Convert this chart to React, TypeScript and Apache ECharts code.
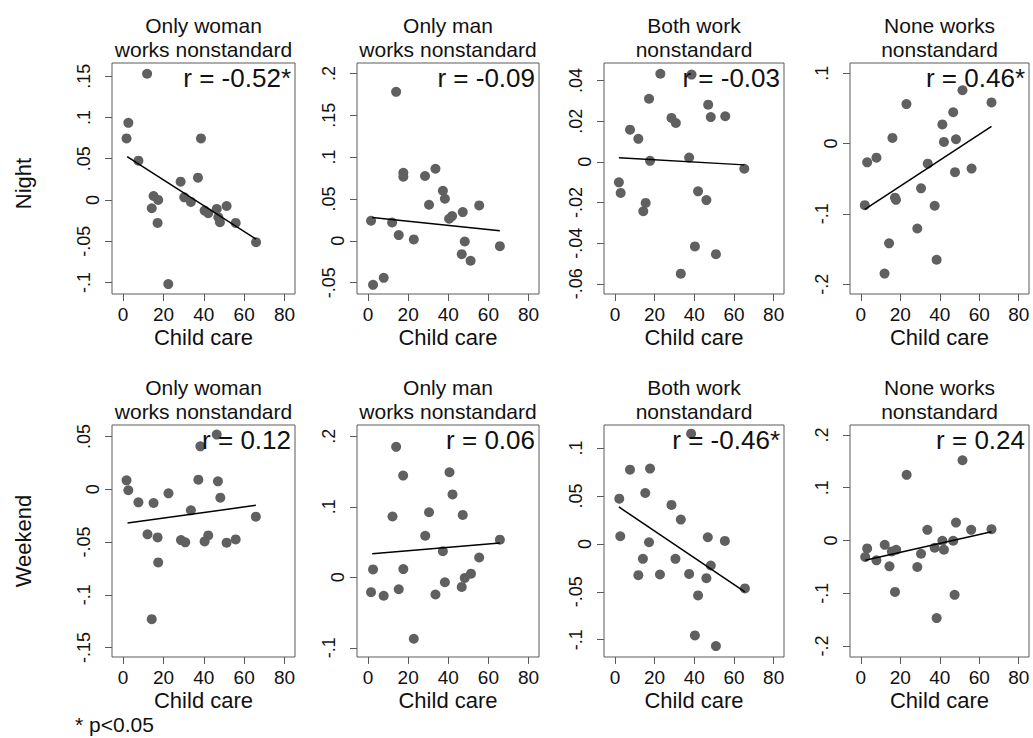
import React, { useEffect, useRef } from "react";
import * as echarts from "echarts";

// ---------- data ----------
const panelTitleLine1 = ["Only woman", "Only man", "Both work", "None works"];
const panelTitleLine2 = ["works nonstandard", "works nonstandard", "nonstandard", "nonstandard"];
const rowLabels = ["Night", "Weekend"];
const xAxisName = "Child care";
const footnote = "* p<0.05";

const nightR = ["r = -0.52*", "r = -0.09", "r = -0.03", "r = 0.46*"];
const weekendR = ["r = 0.12", "r = 0.06", "r = -0.46*", "r = 0.24"];

const xTicks = [0, 20, 40, 60, 80];

const nightOnlyWoman = [
  [11.9, 0.153], [2.6, 0.0935], [1.7, 0.0746], [7.6, 0.0476], [38.6, 0.0746],
  [28.5, 0.0222], [37.1, 0.027], [15.1, 0.0048], [17.4, 0.0], [14.2, -0.0101],
  [17.1, -0.0278], [30.3, 0.0032], [33.6, -0.0024], [40.4, -0.0129], [42.2, -0.0161],
  [46.4, -0.0109], [51.3, -0.0073], [47.2, -0.021], [48.0, -0.027], [55.8, -0.0278],
  [65.9, -0.0512], [22.4, -0.102],
];
const nightOnlyWomanFit = [[2.0, 0.0524], [65.9, -0.0476]];

const nightOnlyMan = [
  [14.0, 0.178], [17.6, 0.0813], [17.6, 0.0766], [28.4, 0.0774], [33.6, 0.0861],
  [37.3, 0.0598], [38.3, 0.0502], [30.4, 0.0431], [55.4, 0.0423], [47.2, 0.0343],
  [41.9, 0.0295], [40.4, 0.0263], [1.5, 0.0239], [12.0, 0.0219], [15.3, 0.0068],
  [22.8, 0.0016], [48.2, -0.0008], [65.7, -0.0064], [46.7, -0.016], [51.1, -0.0239],
  [7.8, -0.0443], [2.5, -0.0526],
];
const nightOnlyManFit = [[2.1, 0.0279], [65.7, 0.012]];

const nightBoth = [
  [22.9, 0.0433], [38.6, 0.0429], [17.2, 0.031], [47.0, 0.0281], [28.5, 0.0216],
  [30.7, 0.0191], [48.3, 0.022], [55.6, 0.0224], [7.6, 0.0158], [11.8, 0.0113],
  [37.4, 0.0021], [17.7, 0.0005], [65.2, -0.0034], [2.0, -0.0101], [2.9, -0.0153],
  [41.9, -0.0145], [46.1, -0.0188], [15.5, -0.0202], [14.3, -0.0243], [40.3, -0.0416],
  [50.9, -0.0454], [33.2, -0.055],
];
const nightBothFit = [[2.0, 0.002], [65.2, -0.0015]];

const nightNone = [
  [51.5, 0.0759], [66.2, 0.0585], [23.1, 0.0562], [46.8, 0.0445], [41.3, 0.0272],
  [16.0, 0.008], [48.2, 0.0061], [42.1, 0.0023], [3.2, -0.0267], [7.9, -0.0201],
  [33.9, -0.0286], [56.1, -0.0356], [47.7, -0.0407], [30.5, -0.0637], [17.3, -0.077],
  [17.8, -0.08], [2.0, -0.0876], [37.4, -0.0885], [28.6, -0.1208], [14.3, -0.1419],
  [38.4, -0.1653], [12.0, -0.185],
];
const nightNoneFit = [[2.0, -0.0937], [66.2, 0.0244]];

const weekendOnlyWoman = [
  [46.4, 0.0519], [38.3, 0.0408], [1.7, 0.0085], [2.6, -0.0009], [37.3, 0.0092],
  [47.0, 0.0076], [48.2, -0.0079], [22.5, -0.0038], [7.6, -0.0123], [15.1, -0.013],
  [33.6, -0.0199], [65.8, -0.0259], [12.1, -0.0427], [17.1, -0.0456], [42.2, -0.0437],
  [28.7, -0.0481], [30.8, -0.0503], [40.4, -0.0494], [51.3, -0.0506], [55.8, -0.0475],
  [17.4, -0.0693], [14.2, -0.1231],
];
const weekendOnlyWomanFit = [[2.2, -0.032], [65.8, -0.0152]];

const weekendOnlyMan = [
  [14.0, 0.185], [17.5, 0.1443], [40.6, 0.149], [42.1, 0.1176], [12.2, 0.0862],
  [30.4, 0.0923], [47.2, 0.0885], [28.5, 0.059], [65.7, 0.0534], [37.3, 0.037],
  [55.4, 0.0281], [2.5, 0.0112], [17.6, 0.0117], [51.3, 0.0052], [48.2, -0.0009],
  [38.3, -0.007], [46.7, -0.0136], [15.3, -0.0169], [1.5, -0.0211], [7.8, -0.0262],
  [33.6, -0.0244], [22.8, -0.0871],
];
const weekendOnlyManFit = [[2.1, 0.0333], [65.7, 0.0487]];

const weekendBoth = [
  [38.4, 0.115], [7.6, 0.0774], [17.7, 0.0785], [2.2, 0.0472], [15.3, 0.0531],
  [28.5, 0.0406], [33.2, 0.0253], [2.7, 0.008], [46.8, 0.0069], [55.4, 0.0031],
  [17.2, 0.0017], [14.1, -0.0156], [30.5, -0.0156], [48.3, -0.0226], [11.8, -0.0326],
  [22.7, -0.0319], [37.4, -0.0313], [46.1, -0.0358], [65.5, -0.0465], [41.9, -0.0538],
  [40.3, -0.0955], [50.9, -0.1066],
];
const weekendBothFit = [[2.0, 0.0385], [65.5, -0.05]];

const weekendNone = [
  [51.5, 0.1522], [23.2, 0.1245], [48.2, 0.034], [33.7, 0.0201], [55.9, 0.0201],
  [66.2, 0.0214], [41.3, -0.0006], [46.8, -0.0006], [37.4, -0.0138], [42.1, -0.0176],
  [12.1, -0.0082], [3.2, -0.0151], [2.2, -0.0314], [7.9, -0.0377], [15.7, -0.0208],
  [17.9, -0.0176], [30.5, -0.0252], [28.6, -0.0503], [14.5, -0.0491], [17.3, -0.0975],
  [47.5, -0.1031], [38.4, -0.1472],
];
const weekendNoneFit = [[2.2, -0.0377], [66.2, 0.0164]];

// y tick values and their labels, per panel (row-major)
const yTickValues = [
  [-0.1, -0.05, 0, 0.05, 0.1, 0.15],
  [-0.05, 0, 0.05, 0.1, 0.15, 0.2],
  [-0.06, -0.04, -0.02, 0, 0.02, 0.04],
  [-0.2, -0.1, 0, 0.1],
  [-0.15, -0.1, -0.05, 0, 0.05],
  [-0.1, 0, 0.1, 0.2],
  [-0.1, -0.05, 0, 0.05, 0.1],
  [-0.2, -0.1, 0, 0.1, 0.2],
];
const yTickLabels = [
  ["-.1", "-.05", "0", ".05", ".1", ".15"],
  ["-.05", "0", ".05", ".1", ".15", ".2"],
  ["-.06", "-.04", "-.02", "0", ".02", ".04"],
  ["-.2", "-.1", "0", ".1"],
  ["-.15", "-.1", "-.05", "0", ".05"],
  ["-.1", "0", ".1", ".2"],
  ["-.1", "-.05", "0", ".05", ".1"],
  ["-.2", "-.1", "0", ".1", ".2"],
];
const yRanges = [
  [-0.114, 0.166],
  [-0.0636, 0.2125],
  [-0.065, 0.0486],
  [-0.214, 0.1146],
  [-0.159, 0.061],
  [-0.113, 0.216],
  [-0.118, 0.124],
  [-0.221, 0.219],
];
const xRange = [-5.5, 85.2];

const panelPoints = [
  nightOnlyWoman, nightOnlyMan, nightBoth, nightNone,
  weekendOnlyWoman, weekendOnlyMan, weekendBoth, weekendNone,
];
const panelFits = [
  nightOnlyWomanFit, nightOnlyManFit, nightBothFit, nightNoneFit,
  weekendOnlyWomanFit, weekendOnlyManFit, weekendBothFit, weekendNoneFit,
];
const panelR = [...nightR, ...weekendR];

// ---------- layout ----------
const ROW_TOP = [63, 425];
const ROW_H = [231, 232];
const COL_LEFT = [112, 357, 604, 850];
const COL_W = [183, 182, 180, 179];

const FONT = "'Liberation Sans', Arial, Helvetica, sans-serif";
const TEXT = "#111";
const FRAME = "#5a5a5a";
const DOT = "#606060";

function txt(x: number, y: number, text: string, fontSize: number, align: string, extra: any = {}) {
  return {
    type: "text", x, y, z: 10, ...extra,
    style: {
      text, fill: TEXT, fontSize, fontFamily: FONT, lineHeight: fontSize,
      textAlign: align, textVerticalAlign: "middle", align, verticalAlign: "middle",
    },
  };
}

function buildOption() {
  const grid: any[] = [];
  const xAxis: any[] = [];
  const yAxis: any[] = [];
  const series: any[] = [];
  const graphic: any[] = [];

  for (let i = 0; i < 8; i++) {
    const row = Math.floor(i / 4);
    const col = i % 4;
    const left = COL_LEFT[col];
    const top = ROW_TOP[row];
    const width = COL_W[col];
    const height = ROW_H[row];
    grid.push({
      left, top, width, height,
      show: true, borderColor: FRAME, borderWidth: 1, backgroundColor: "transparent",
    });
    xAxis.push({
      type: "value", gridIndex: i, min: xRange[0], max: xRange[1],
      axisLine: { show: false, onZero: false },
      axisTick: { show: true, length: 7, customValues: xTicks, lineStyle: { color: FRAME, width: 1 } },
      axisLabel: { customValues: xTicks, margin: 11, fontSize: 19, lineHeight: 19, color: TEXT, fontFamily: FONT },
      splitLine: { show: false },
    });
    const vals = yTickValues[i];
    const labs = yTickLabels[i];
    yAxis.push({
      type: "value", gridIndex: i, min: yRanges[i][0], max: yRanges[i][1],
      axisLine: { show: false, onZero: false },
      axisTick: { show: true, length: 7, customValues: vals, lineStyle: { color: FRAME, width: 1 } },
      axisLabel: {
        customValues: vals, rotate: 90, margin: 10, fontSize: 18, color: TEXT, fontFamily: FONT,
        formatter: (v: number) => {
          const idx = vals.findIndex((t) => Math.abs(t - v) < 1e-9);
          const s = idx >= 0 ? labs[idx] : String(v);
          return s === "0" ? "{z|" + s + "}" : "{n|" + s + "}";
        },
        rich: {
          z: { fontSize: 18, color: TEXT, fontFamily: FONT },
          n: { fontSize: 18, color: TEXT, fontFamily: FONT, padding: [0, 0, 9, 0] },
        },
      },
      splitLine: { show: false },
    });
    series.push({
      type: "scatter", xAxisIndex: i, yAxisIndex: i, data: panelPoints[i],
      symbol: "circle", symbolSize: 10, itemStyle: { color: DOT, opacity: 1 },
      z: 2,
    });
    series.push({
      type: "line", xAxisIndex: i, yAxisIndex: i, data: panelFits[i],
      symbol: "none", lineStyle: { color: "#000", width: 1.5 }, z: 3,
    });

    const cx = left + width / 2;
    graphic.push(txt(cx, top - 38, panelTitleLine1[col], 21, "center"));
    graphic.push(txt(cx, top - 14, panelTitleLine2[col], 21, "center"));
    graphic.push(txt(left + width - 4, top + 15, panelR[i], 26, "right"));
    graphic.push(txt(cx, top + height + 43, xAxisName, 22, "center"));
  }

  for (let r = 0; r < 2; r++) {
    graphic.push(
      txt(23, ROW_TOP[r] + ROW_H[r] / 2 + (r === 0 ? 5 : 0), rowLabels[r], 22, "center", {
        rotation: Math.PI / 2,
      })
    );
  }
  graphic.push(txt(75, 724, footnote, 21, "left"));

  return {
    animation: false,
    backgroundColor: "#ffffff",
    grid, xAxis, yAxis, series, graphic,
  };
}

export default function App() {
  const ref = useRef<HTMLDivElement>(null);
  useEffect(() => {
    if (!ref.current) return;
    const chart = echarts.init(ref.current, null, { renderer: "svg" });
    chart.setOption(buildOption() as any);
    return () => chart.dispose();
  }, []);
  return (
    <div
      ref={ref}
      style={{ position: "absolute", left: 0, top: 0, width: 1033, height: 738, background: "#fff" }}
    />
  );
}
